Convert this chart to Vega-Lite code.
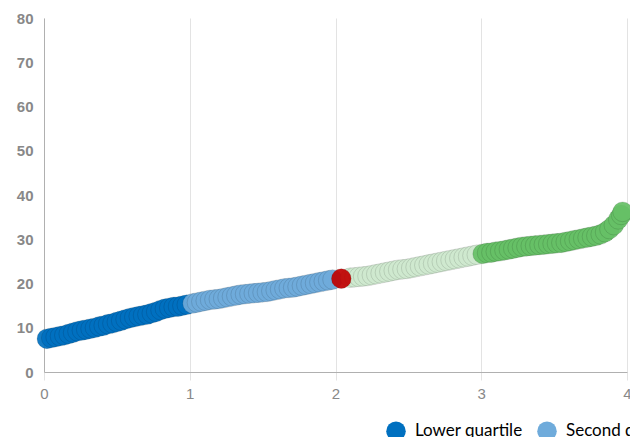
{
  "$schema": "https://vega.github.io/schema/vega-lite/v6.json",
  "width": 583,
  "height": 354,
  "autosize": {"type": "none"},
  "padding": {"left": 44, "top": 18, "right": 3, "bottom": 65},
  "background": "white",
  "config": {"view": {"stroke": null}},
  "data": {"values": [
    {"x":0.02,"y":7.5,"q":"Lower quartile"},{"x":0.05,"y":7.7,"q":"Lower quartile"},{"x":0.08,"y":7.9,"q":"Lower quartile"},{"x":0.11,"y":8.1,"q":"Lower quartile"},{"x":0.14,"y":8.3,"q":"Lower quartile"},{"x":0.17,"y":8.6,"q":"Lower quartile"},{"x":0.20,"y":8.9,"q":"Lower quartile"},{"x":0.23,"y":9.2,"q":"Lower quartile"},{"x":0.26,"y":9.4,"q":"Lower quartile"},{"x":0.29,"y":9.6,"q":"Lower quartile"},{"x":0.32,"y":9.8,"q":"Lower quartile"},{"x":0.35,"y":10.0,"q":"Lower quartile"},{"x":0.38,"y":10.3,"q":"Lower quartile"},{"x":0.41,"y":10.5,"q":"Lower quartile"},{"x":0.44,"y":10.8,"q":"Lower quartile"},{"x":0.47,"y":11.0,"q":"Lower quartile"},{"x":0.50,"y":11.3,"q":"Lower quartile"},{"x":0.53,"y":11.6,"q":"Lower quartile"},{"x":0.56,"y":11.9,"q":"Lower quartile"},{"x":0.59,"y":12.2,"q":"Lower quartile"},{"x":0.62,"y":12.4,"q":"Lower quartile"},{"x":0.65,"y":12.6,"q":"Lower quartile"},{"x":0.68,"y":12.8,"q":"Lower quartile"},{"x":0.71,"y":13.0,"q":"Lower quartile"},{"x":0.74,"y":13.3,"q":"Lower quartile"},{"x":0.77,"y":13.6,"q":"Lower quartile"},{"x":0.80,"y":14.0,"q":"Lower quartile"},{"x":0.83,"y":14.3,"q":"Lower quartile"},{"x":0.86,"y":14.5,"q":"Lower quartile"},{"x":0.89,"y":14.7,"q":"Lower quartile"},{"x":0.92,"y":14.8,"q":"Lower quartile"},{"x":0.95,"y":15.0,"q":"Lower quartile"},{"x":0.98,"y":15.2,"q":"Lower quartile"},
    {"x":1.02,"y":15.5,"q":"Second quartile"},{"x":1.05,"y":15.7,"q":"Second quartile"},{"x":1.08,"y":15.9,"q":"Second quartile"},{"x":1.11,"y":16.1,"q":"Second quartile"},{"x":1.14,"y":16.3,"q":"Second quartile"},{"x":1.17,"y":16.4,"q":"Second quartile"},{"x":1.20,"y":16.5,"q":"Second quartile"},{"x":1.23,"y":16.7,"q":"Second quartile"},{"x":1.26,"y":16.9,"q":"Second quartile"},{"x":1.29,"y":17.1,"q":"Second quartile"},{"x":1.32,"y":17.3,"q":"Second quartile"},{"x":1.35,"y":17.5,"q":"Second quartile"},{"x":1.38,"y":17.6,"q":"Second quartile"},{"x":1.41,"y":17.7,"q":"Second quartile"},{"x":1.44,"y":17.8,"q":"Second quartile"},{"x":1.47,"y":17.9,"q":"Second quartile"},{"x":1.50,"y":18.0,"q":"Second quartile"},{"x":1.53,"y":18.1,"q":"Second quartile"},{"x":1.56,"y":18.3,"q":"Second quartile"},{"x":1.59,"y":18.5,"q":"Second quartile"},{"x":1.62,"y":18.7,"q":"Second quartile"},{"x":1.65,"y":18.9,"q":"Second quartile"},{"x":1.68,"y":19.0,"q":"Second quartile"},{"x":1.71,"y":19.1,"q":"Second quartile"},{"x":1.74,"y":19.3,"q":"Second quartile"},{"x":1.77,"y":19.5,"q":"Second quartile"},{"x":1.80,"y":19.7,"q":"Second quartile"},{"x":1.83,"y":19.9,"q":"Second quartile"},{"x":1.86,"y":20.1,"q":"Second quartile"},{"x":1.89,"y":20.3,"q":"Second quartile"},{"x":1.92,"y":20.5,"q":"Second quartile"},{"x":1.95,"y":20.7,"q":"Second quartile"},{"x":1.98,"y":20.9,"q":"Second quartile"},
    {"x":2.10,"y":21.3,"q":"Third quartile"},{"x":2.13,"y":21.4,"q":"Third quartile"},{"x":2.16,"y":21.5,"q":"Third quartile"},{"x":2.19,"y":21.6,"q":"Third quartile"},{"x":2.22,"y":21.7,"q":"Third quartile"},{"x":2.25,"y":21.9,"q":"Third quartile"},{"x":2.28,"y":22.1,"q":"Third quartile"},{"x":2.31,"y":22.3,"q":"Third quartile"},{"x":2.34,"y":22.5,"q":"Third quartile"},{"x":2.37,"y":22.7,"q":"Third quartile"},{"x":2.40,"y":22.9,"q":"Third quartile"},{"x":2.43,"y":23.1,"q":"Third quartile"},{"x":2.46,"y":23.2,"q":"Third quartile"},{"x":2.49,"y":23.3,"q":"Third quartile"},{"x":2.52,"y":23.5,"q":"Third quartile"},{"x":2.55,"y":23.7,"q":"Third quartile"},{"x":2.58,"y":23.9,"q":"Third quartile"},{"x":2.61,"y":24.1,"q":"Third quartile"},{"x":2.64,"y":24.3,"q":"Third quartile"},{"x":2.67,"y":24.5,"q":"Third quartile"},{"x":2.70,"y":24.7,"q":"Third quartile"},{"x":2.73,"y":24.9,"q":"Third quartile"},{"x":2.76,"y":25.1,"q":"Third quartile"},{"x":2.79,"y":25.3,"q":"Third quartile"},{"x":2.82,"y":25.5,"q":"Third quartile"},{"x":2.85,"y":25.7,"q":"Third quartile"},{"x":2.88,"y":25.9,"q":"Third quartile"},{"x":2.91,"y":26.1,"q":"Third quartile"},{"x":2.94,"y":26.3,"q":"Third quartile"},{"x":2.97,"y":26.5,"q":"Third quartile"},
    {"x":3.01,"y":26.7,"q":"Upper quartile"},{"x":3.04,"y":26.9,"q":"Upper quartile"},{"x":3.07,"y":27.0,"q":"Upper quartile"},{"x":3.10,"y":27.2,"q":"Upper quartile"},{"x":3.13,"y":27.3,"q":"Upper quartile"},{"x":3.16,"y":27.5,"q":"Upper quartile"},{"x":3.19,"y":27.7,"q":"Upper quartile"},{"x":3.22,"y":27.9,"q":"Upper quartile"},{"x":3.25,"y":28.1,"q":"Upper quartile"},{"x":3.28,"y":28.3,"q":"Upper quartile"},{"x":3.31,"y":28.4,"q":"Upper quartile"},{"x":3.34,"y":28.5,"q":"Upper quartile"},{"x":3.37,"y":28.6,"q":"Upper quartile"},{"x":3.40,"y":28.7,"q":"Upper quartile"},{"x":3.43,"y":28.8,"q":"Upper quartile"},{"x":3.46,"y":28.9,"q":"Upper quartile"},{"x":3.49,"y":29.0,"q":"Upper quartile"},{"x":3.52,"y":29.1,"q":"Upper quartile"},{"x":3.55,"y":29.2,"q":"Upper quartile"},{"x":3.58,"y":29.4,"q":"Upper quartile"},{"x":3.61,"y":29.6,"q":"Upper quartile"},{"x":3.64,"y":29.8,"q":"Upper quartile"},{"x":3.67,"y":30.0,"q":"Upper quartile"},{"x":3.70,"y":30.2,"q":"Upper quartile"},{"x":3.73,"y":30.4,"q":"Upper quartile"},{"x":3.76,"y":30.6,"q":"Upper quartile"},{"x":3.79,"y":30.8,"q":"Upper quartile"},{"x":3.82,"y":31.1,"q":"Upper quartile"},{"x":3.85,"y":31.6,"q":"Upper quartile"},{"x":3.88,"y":32.3,"q":"Upper quartile"},{"x":3.91,"y":33.2,"q":"Upper quartile"},{"x":3.94,"y":34.5,"q":"Upper quartile"},{"x":3.96,"y":35.5,"q":"Upper quartile"},{"x":3.97,"y":36.2,"q":"Upper quartile"},
    {"x":2.04,"y":21.1,"q":"Median"}
  ]},
  "mark": {"type": "point", "filled": true, "size": 390, "opacity": 0.92, "stroke": "#000000", "strokeOpacity": 0.12, "strokeWidth": 1},
  "encoding": {
    "x": {"field": "x", "type": "quantitative",
      "scale": {"domain": [0, 4], "nice": false},
      "axis": {"title": null, "values": [0, 1, 2, 3, 4], "grid": true, "gridColor": "#e3e3e3", "domainColor": "#b0b0b0", "ticks": true, "tickColor": "#e3e3e3", "tickSize": 8, "labelFont": "Liberation Sans", "labelFontSize": 15, "labelColor": "#888888", "labelPadding": 6, "labelFlush": false}},
    "y": {"field": "y", "type": "quantitative",
      "scale": {"domain": [0, 80], "nice": false},
      "axis": {"title": null, "values": [0, 10, 20, 30, 40, 50, 60, 70, 80], "grid": false, "domainColor": "#b0b0b0", "ticks": false, "labelFont": "Liberation Sans", "labelFontSize": 15, "labelColor": "#888888", "labelPadding": 11, "labelFontWeight": "bold"}},
    "color": {"field": "q", "type": "nominal",
      "scale": {"domain": ["Lower quartile", "Second quartile", "Median", "Third quartile", "Upper quartile"],
                "range": ["#0070c0", "#6fabdb", "#c00000", "#cfe9cf", "#66c066"]},
      "legend": {"title": null, "orient": "none", "direction": "horizontal", "legendX": 342, "legendY": 403,
        "symbolType": "circle", "symbolSize": 380, "symbolOpacity": 1, "symbolStrokeWidth": 0,
        "labelFont": "Lato", "labelFontSize": 17, "labelColor": "#000000", "labelOffset": 9, "columnPadding": 14, "padding": 0}}
  }
}
